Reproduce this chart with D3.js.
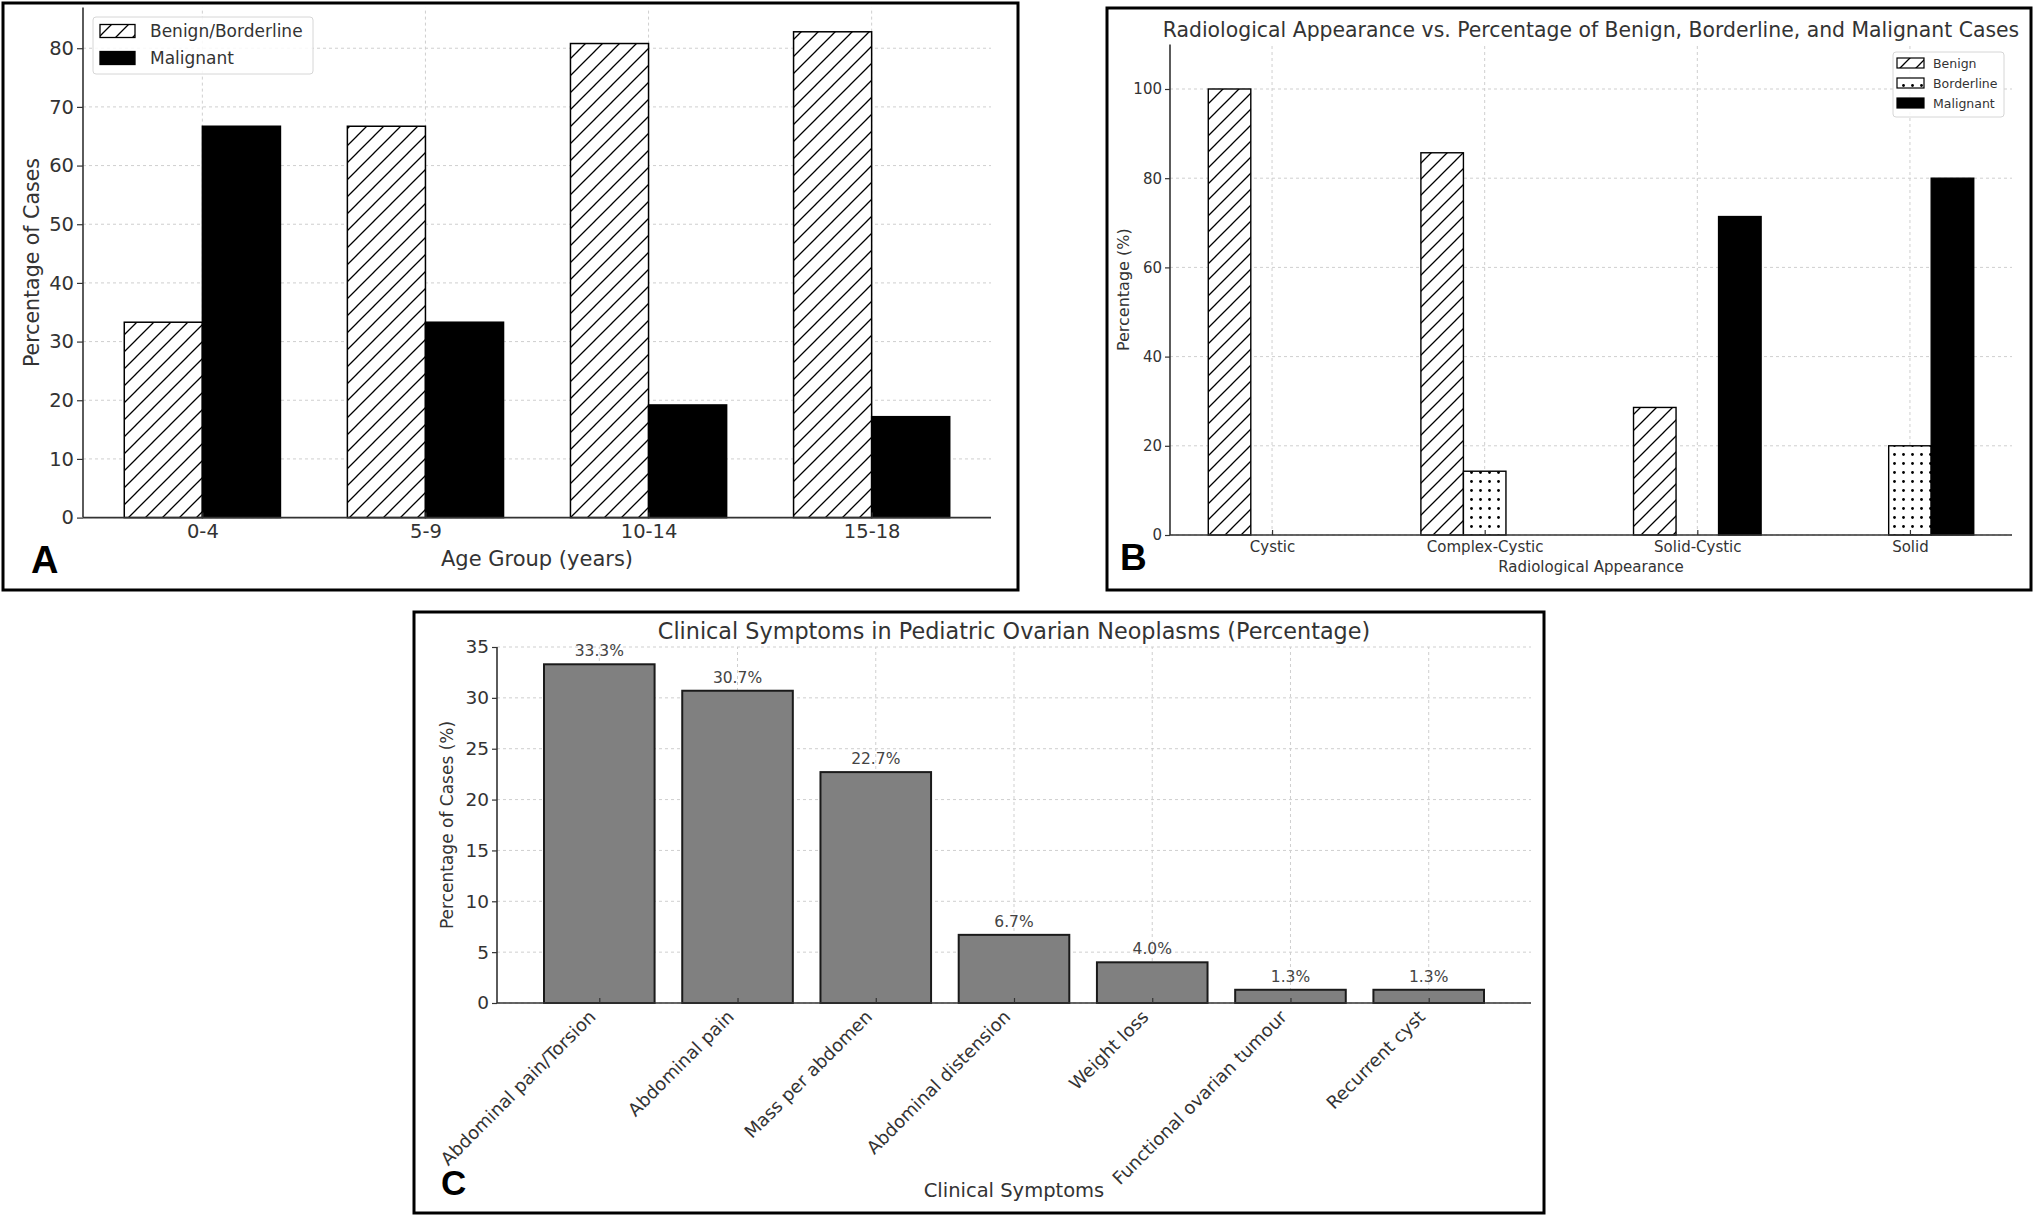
<!DOCTYPE html>
<html>
<head>
<meta charset="utf-8">
<script src="https://cdn.jsdelivr.net/npm/d3@7"></script>
<style>
  html, body { margin: 0; padding: 0; background: #fff; }
  svg { display: block; }
  text { font-family: "DejaVu Sans", sans-serif; fill: #333; }
</style>
</head>
<body>
<svg id="fig" width="2034" height="1215"></svg>
<script>
// ---------- DATA ----------
const ageGroups = ["0-4", "5-9", "10-14", "15-18"];
const benignBorderlinePct = [33.3, 66.7, 80.8, 82.8];
const malignantPct = [66.7, 33.3, 19.2, 17.2];
const ticksA = [0, 10, 20, 30, 40, 50, 60, 70, 80];

const radioCategories = ["Cystic", "Complex-Cystic", "Solid-Cystic", "Solid"];
const radioBenign = [100, 85.7, 28.6, 0];
const radioBorderline = [0, 14.3, 0, 20];
const radioMalignant = [0, 0, 71.4, 80];
const ticksB = [0, 20, 40, 60, 80, 100];

const symptoms = ["Abdominal pain/Torsion", "Abdominal pain", "Mass per abdomen",
  "Abdominal distension", "Weight loss", "Functional ovarian tumour", "Recurrent cyst"];
const symptomPct = [33.3, 30.7, 22.7, 6.7, 4.0, 1.3, 1.3];
const ticksC = [0, 5, 10, 15, 20, 25, 30, 35];

// ---------- SETUP ----------
const svg = d3.select("#fig");
const defs = svg.append("defs");

function hatchPattern(id, s) {
  const p = defs.append("pattern").attr("id", id).attr("patternUnits", "userSpaceOnUse")
    .attr("width", s).attr("height", s);
  p.append("rect").attr("width", s).attr("height", s).attr("fill", "#fff");
  p.append("path").attr("d", `M0,${s} L${s},0 M${-s/2},${s/2} L${s/2},${-s/2} M${s/2},${s*1.5} L${s*1.5},${s/2}`)
    .attr("stroke", "#000").attr("stroke-width", 1.3);
}
hatchPattern("hatchA", 17);
hatchPattern("hatchB", 16);
(function () {
  const s = 9;
  const p = defs.append("pattern").attr("id", "dots").attr("patternUnits", "userSpaceOnUse")
    .attr("width", s).attr("height", s);
  p.append("rect").attr("width", s).attr("height", s).attr("fill", "#fff");
  p.append("circle").attr("cx", s / 2).attr("cy", s / 2).attr("r", 1.4).attr("fill", "#000");
})();

function frame(x0, y0, x1, y1) {
  svg.append("rect").attr("x", x0).attr("y", y0).attr("width", x1 - x0).attr("height", y1 - y0)
    .attr("fill", "none").attr("stroke", "#000").attr("stroke-width", 3);
}
function grid(g, x, y, xvals, yvals) {
  const [xa, xb] = x.range(), [ya, yb] = y.range();
  g.selectAll(".gy").data(yvals).join("line")
    .attr("x1", xa).attr("x2", xb).attr("y1", d => y(d)).attr("y2", d => y(d))
    .attr("stroke", "#cfcfcf").attr("stroke-width", 1).attr("stroke-dasharray", "3,3");
  g.selectAll(".gx").data(xvals).join("line")
    .attr("x1", d => x(d)).attr("x2", d => x(d)).attr("y1", ya).attr("y2", yb)
    .attr("stroke", "#cfcfcf").attr("stroke-width", 1).attr("stroke-dasharray", "3,3");
}
function styleAxis(g, fs) {
  g.select(".domain").attr("stroke", "#333").attr("stroke-width", 1.6);
  g.selectAll(".tick line").attr("stroke", "#333").attr("stroke-width", 1.2);
  g.selectAll(".tick text").attr("fill", "#333").style("font-family", "DejaVu Sans").style("font-size", fs + "px");
}
function panelLetter(t, x, y, fs) {
  svg.append("text").text(t).attr("x", x).attr("y", y)
    .style("font-family", "Liberation Sans, Arial, sans-serif").style("font-weight", "bold")
    .style("font-size", fs + "px").style("fill", "#000");
}

// ---------- PANEL A ----------
(function () {
  frame(3, 3, 1018, 590);
  const g = svg.append("g");
  const x = d3.scaleLinear().domain([-0.535, 3.535]).range([83, 991]);
  const y = d3.scaleLinear().domain([0, 86.94]).range([517.6, 7.5]);
  const idx = ageGroups.map((_, i) => i);
  const w = 0.35;
  grid(g, x, y, idx, ticksA);

  g.selectAll(".barB").data(benignBorderlinePct).join("rect")
    .attr("x", (d, i) => x(i - w)).attr("width", (d, i) => x(i) - x(i - w))
    .attr("y", d => y(d)).attr("height", d => y(0) - y(d))
    .attr("fill", "url(#hatchA)").attr("stroke", "#000").attr("stroke-width", 1.5);
  g.selectAll(".barM").data(malignantPct).join("rect")
    .attr("x", (d, i) => x(i)).attr("width", (d, i) => x(i + w) - x(i))
    .attr("y", d => y(d)).attr("height", d => y(0) - y(d))
    .attr("fill", "#000").attr("stroke", "#000").attr("stroke-width", 1.5);

  const ya = g.append("g").attr("transform", `translate(${x.range()[0]},0)`)
    .call(d3.axisLeft(y).tickValues(ticksA).tickSize(6).tickPadding(3).tickSizeOuter(0));
  styleAxis(ya, 19.5);
  const xa = g.append("g").attr("transform", `translate(0,${y(0)})`)
    .call(d3.axisBottom(x).tickValues(idx).tickFormat(i => ageGroups[i]).tickSize(-5).tickPadding(7).tickSizeOuter(0));
  styleAxis(xa, 19.5);
  ya.select(".domain").attr("d", `M0,${y.range()[0]}V${y.range()[1]}`);
  xa.select(".domain").attr("d", `M${x.range()[0]},0H${x.range()[1]}`);

  g.append("text").text("Age Group (years)").attr("x", (x.range()[0] + x.range()[1]) / 2).attr("y", 566)
    .attr("text-anchor", "middle").style("font-size", "21px");
  g.append("text").text("Percentage of Cases").attr("transform", `translate(39,${(y.range()[0] + y.range()[1]) / 2}) rotate(-90)`)
    .attr("text-anchor", "middle").style("font-size", "20.5px");

  // legend
  const L = g.append("g");
  L.append("rect").attr("x", 93).attr("y", 17).attr("width", 220).attr("height", 57).attr("rx", 3)
    .attr("fill", "#fff").attr("fill-opacity", 0.85).attr("stroke", "#d6d6d6");
  const items = [["Benign/Borderline", "url(#hatchA)"], ["Malignant", "#000"]];
  items.forEach((it, k) => {
    const cy = 31 + k * 27;
    L.append("rect").attr("x", 100).attr("y", cy - 6.5).attr("width", 35).attr("height", 13)
      .attr("fill", it[1]).attr("stroke", "#000").attr("stroke-width", 1.3);
    L.append("text").text(it[0]).attr("x", 150).attr("y", cy + 6).style("font-size", "17px");
  });
  panelLetter("A", 31, 573, 38);
})();

// ---------- PANEL B ----------
(function () {
  frame(1107, 8, 2031, 590);
  const g = svg.append("g");
  const x = d3.scaleLinear().domain([-0.48, 3.48]).range([1170, 2012]);
  const y = d3.scaleLinear().domain([0, 110]).range([535, 44.4]);
  const idx = radioCategories.map((_, i) => i);
  const w = 0.2;
  grid(g, x, y, idx, ticksB);

  const series = [[radioBenign, -w, "url(#hatchB)"], [radioBorderline, 0, "url(#dots)"], [radioMalignant, w, "#000"]];
  series.forEach(([vals, off, fill], k) => {
    g.selectAll(".s" + k).data(vals).join("rect")
      .attr("x", (d, i) => x(i + off - w / 2)).attr("width", (d, i) => x(i + off + w / 2) - x(i + off - w / 2))
      .attr("y", d => y(d)).attr("height", d => y(0) - y(d))
      .attr("fill", fill).attr("stroke", "#000").attr("stroke-width", d => d > 0 ? 1.4 : 0);
  });

  const ya = g.append("g").attr("transform", `translate(${x.range()[0]},0)`)
    .call(d3.axisLeft(y).tickValues(ticksB).tickSize(5).tickPadding(3).tickSizeOuter(0));
  styleAxis(ya, 15);
  const xa = g.append("g").attr("transform", `translate(0,${y(0)})`)
    .call(d3.axisBottom(x).tickValues(idx).tickFormat(i => radioCategories[i]).tickSize(-5).tickPadding(6).tickSizeOuter(0));
  styleAxis(xa, 15);
  ya.select(".domain").attr("d", `M0,${y.range()[0]}V${y.range()[1]}`);
  xa.select(".domain").attr("d", `M${x.range()[0]},0H${x.range()[1]}`);

  const cx = (x.range()[0] + x.range()[1]) / 2;
  g.append("text").text("Radiological Appearance vs. Percentage of Benign, Borderline, and Malignant Cases")
    .attr("x", cx).attr("y", 37).attr("text-anchor", "middle").style("font-size", "20.4px");
  g.append("text").text("Radiological Appearance").attr("x", cx).attr("y", 572)
    .attr("text-anchor", "middle").style("font-size", "15px");
  g.append("text").text("Percentage (%)").attr("transform", `translate(1129,${(y.range()[0] + y.range()[1]) / 2}) rotate(-90)`)
    .attr("text-anchor", "middle").style("font-size", "16px");

  const L = g.append("g");
  L.append("rect").attr("x", 1893).attr("y", 52).attr("width", 111).attr("height", 65).attr("rx", 3)
    .attr("fill", "#fff").attr("fill-opacity", 0.85).attr("stroke", "#d6d6d6");
  const items = [["Benign", "url(#hatchB)"], ["Borderline", "url(#dots)"], ["Malignant", "#000"]];
  items.forEach((it, k) => {
    const cy = 63 + k * 20;
    L.append("rect").attr("x", 1897).attr("y", cy - 5).attr("width", 27).attr("height", 10)
      .attr("fill", it[1]).attr("stroke", "#000").attr("stroke-width", 1.2);
    L.append("text").text(it[0]).attr("x", 1933).attr("y", cy + 4.5).style("font-size", "12.5px");
  });
  panelLetter("B", 1120, 570, 37);
})();

// ---------- PANEL C ----------
(function () {
  frame(414, 612, 1544, 1213);
  const g = svg.append("g");
  const x = d3.scaleLinear().domain([-0.74, 6.74]).range([497, 1531]);
  const y = d3.scaleLinear().domain([0, 35]).range([1003, 647]);
  const idx = symptoms.map((_, i) => i);
  const w = 0.8;
  grid(g, x, y, idx, ticksC);

  g.selectAll(".barC").data(symptomPct).join("rect")
    .attr("x", (d, i) => x(i - w / 2)).attr("width", (d, i) => x(i + w / 2) - x(i - w / 2))
    .attr("y", d => y(d)).attr("height", d => y(0) - y(d))
    .attr("fill", "#808080").attr("stroke", "#1a1a1a").attr("stroke-width", 2);
  g.selectAll(".lab").data(symptomPct).join("text")
    .text(d => d.toFixed(1) + "%")
    .attr("x", (d, i) => x(i)).attr("y", d => y(d) - 8)
    .attr("text-anchor", "middle").style("font-size", "15.5px").style("fill", "#444");

  const ya = g.append("g").attr("transform", `translate(${x.range()[0]},0)`)
    .call(d3.axisLeft(y).tickValues(ticksC).tickSize(5).tickPadding(3).tickSizeOuter(0));
  styleAxis(ya, 18.5);
  const xa = g.append("g").attr("transform", `translate(0,${y(0)})`)
    .call(d3.axisBottom(x).tickValues(idx).tickFormat(i => symptoms[i]).tickSize(-5).tickSizeOuter(0));
  styleAxis(xa, 18);
  ya.select(".domain").attr("d", `M0,${y.range()[0]}V${y.range()[1]}`);
  xa.select(".domain").attr("d", `M${x.range()[0]},0H${x.range()[1]}`);
  xa.selectAll(".tick text").attr("y", 0).attr("dy", 0)
    .attr("text-anchor", "end").attr("transform", "translate(-3,15) rotate(-45)");

  const cx = (x.range()[0] + x.range()[1]) / 2;
  g.append("text").text("Clinical Symptoms in Pediatric Ovarian Neoplasms (Percentage)")
    .attr("x", cx).attr("y", 639).attr("text-anchor", "middle").style("font-size", "22.3px");
  g.append("text").text("Clinical Symptoms").attr("x", cx).attr("y", 1197)
    .attr("text-anchor", "middle").style("font-size", "19.5px");
  g.append("text").text("Percentage of Cases (%)").attr("transform", `translate(453,${(y.range()[0] + y.range()[1]) / 2}) rotate(-90)`)
    .attr("text-anchor", "middle").style("font-size", "17px");
  panelLetter("C", 441, 1195, 35);
})();
</script>
</body>
</html>
